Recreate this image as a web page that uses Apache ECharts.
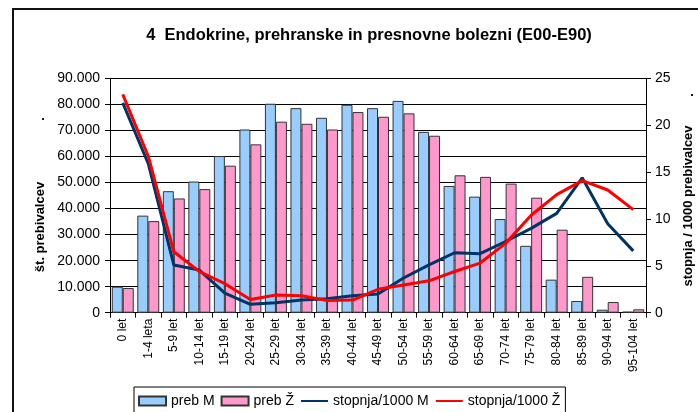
<!DOCTYPE html>
<html>
<head>
<meta charset="utf-8">
<script src="https://cdn.jsdelivr.net/npm/echarts@6/dist/echarts.min.js"></script>
<style>
  html, body { margin: 0; padding: 0; background: #fff; }
  #chart { width: 698px; height: 412px; }
</style>
</head>
<body>
<div id="chart"></div>
<script>
const ageGroups = ['0 let', '1-4 leta', '5-9 let', '10-14 let', '15-19 let', '20-24 let', '25-29 let',
    '30-34 let', '35-39 let', '40-44 let', '45-49 let', '50-54 let', '55-59 let', '60-64 let',
    '65-69 let', '70-74 let', '75-79 let', '80-84 let', '85-89 let', '90-94 let', '95-104 let'];

// population counts (left axis)
const prebM = [10000, 37300, 46700, 50400, 60200, 70400, 80300, 78600, 74900, 79900, 78600,
    81400, 69500, 48700, 44600, 36000, 25700, 12700, 4500, 1150, 400];
const prebZ = [9500, 35200, 43900, 47500, 56500, 64700, 73400, 72600, 70400, 77100, 75300,
    76600, 68000, 52800, 52200, 49600, 44200, 31900, 13800, 4100, 1300];

// rate per 1000 (right axis)
const stopnjaM = [22.4, 15.9, 5.1, 4.55, 2.1, 0.9, 1.07, 1.35, 1.5, 1.8, 2.0,
    3.7, 5.1, 6.4, 6.3, 7.6, 9.0, 10.6, 14.4, 9.5, 6.6];
const stopnjaZ = [23.3, 16.7, 6.5, 4.4, 3.1, 1.4, 1.9, 1.8, 1.3, 1.35, 2.5,
    2.95, 3.4, 4.4, 5.3, 7.4, 10.4, 12.6, 14.1, 13.1, 11.0];

const FONT = '"Liberation Sans", Arial, sans-serif';

const chart = echarts.init(document.getElementById('chart'), null, { renderer: 'canvas' });

const thousands = v => v === 0 ? '0' : String(v).replace(/\B(?=(\d{3})+(?!\d))/g, '.');

chart.setOption({
    backgroundColor: '#fff',
    animation: false,
    textStyle: { fontFamily: FONT, color: '#000' },
    title: {
        text: '4  Endokrine, prehranske in presnovne bolezni (E00-E90)',
        left: 364, top: 22, textAlign: 'center',
        textStyle: { fontFamily: FONT, fontSize: 16.5, fontWeight: 'bold', color: '#000' },
    },
    graphic: [
        // outer frame (top and left edges visible)
        { type: 'polyline', shape: { points: [[13, 412], [13, 9], [698, 9]] },
          style: { stroke: '#111', lineWidth: 2, fill: null }, silent: true },
        { type: 'text', x: 40, y: 227, rotation: Math.PI / 2,
          style: { text: 'št. prebivalcev', font: 'bold 13px ' + FONT, fill: '#000',
                   align: 'center', verticalAlign: 'middle' } },
        { type: 'text', x: 43, y: 116,
          style: { text: '.', font: 'bold 13px ' + FONT, fill: '#000', align: 'center', verticalAlign: 'middle' } },
        { type: 'text', x: 688, y: 206, rotation: Math.PI / 2,
          style: { text: 'stopnja / 1000 prebivalcev', font: 'bold 13px ' + FONT, fill: '#000',
                   align: 'center', verticalAlign: 'middle' } },
        { type: 'text', x: 692, y: 92,
          style: { text: '.', font: 'bold 13px ' + FONT, fill: '#000', align: 'center', verticalAlign: 'middle' } },
    ],
    legend: {
        left: 134, top: 387,
        padding: [7, 5, 7, 4],
        borderColor: '#000', borderWidth: 1,
        itemGap: 6, itemWidth: 27, itemHeight: 9,
        textStyle: { fontFamily: FONT, fontSize: 14, color: '#000' },
        data: [
            { name: 'preb M', icon: 'rect' },
            { name: 'preb Ž', icon: 'rect' },
            { name: 'stopnja/1000 M', itemStyle: { opacity: 0 } },
            { name: 'stopnja/1000 Ž', itemStyle: { opacity: 0 } },
        ],
    },
    grid: { left: 110, right: 52, top: 78.5, bottom: 99.3 },
    xAxis: {
        type: 'category', data: ageGroups,
        axisLine: { lineStyle: { color: '#000', width: 1 } },
        axisTick: { show: true, length: 5, lineStyle: { color: '#000' } },
        axisLabel: { rotate: 90, fontSize: 12, color: '#000', margin: 6, interval: 0, fontFamily: FONT },
    },
    yAxis: [
        {
            type: 'value', min: 0, max: 90000, interval: 10000,
            axisLine: { show: true, lineStyle: { color: '#000' } },
            axisTick: { show: true, length: 5, lineStyle: { color: '#000' } },
            axisLabel: { fontSize: 14, color: '#000', margin: 10, formatter: thousands, fontFamily: FONT },
            splitLine: { show: true, lineStyle: { color: '#000', width: 1 } },
        },
        {
            type: 'value', min: 0, max: 25, interval: 5,
            axisLine: { show: true, lineStyle: { color: '#000' } },
            axisTick: { show: true, length: 5, lineStyle: { color: '#000' } },
            axisLabel: { fontSize: 14, color: '#000', margin: 9, fontFamily: FONT },
            splitLine: { show: false },
        },
    ],
    series: [
        {
            name: 'preb M', type: 'bar', data: prebM,
            barGap: '0%', barCategoryGap: '14%',
            itemStyle: { color: '#99CCFF', borderColor: '#333', borderWidth: 1 },
        },
        {
            name: 'preb Ž', type: 'bar', data: prebZ,
            barGap: '0%', barCategoryGap: '14%',
            itemStyle: { color: '#FF99CC', borderColor: '#333', borderWidth: 1 },
        },
        {
            name: 'stopnja/1000 M', type: 'line', yAxisIndex: 1, data: stopnjaM,
            symbol: 'none', lineStyle: { color: '#003366', width: 3 },
            itemStyle: { color: '#003366' }, z: 5,
        },
        {
            name: 'stopnja/1000 Ž', type: 'line', yAxisIndex: 1, data: stopnjaZ,
            symbol: 'none', lineStyle: { color: '#FF0000', width: 3 },
            itemStyle: { color: '#FF0000' }, z: 6,
        },
    ],
});
</script>
</body>
</html>
